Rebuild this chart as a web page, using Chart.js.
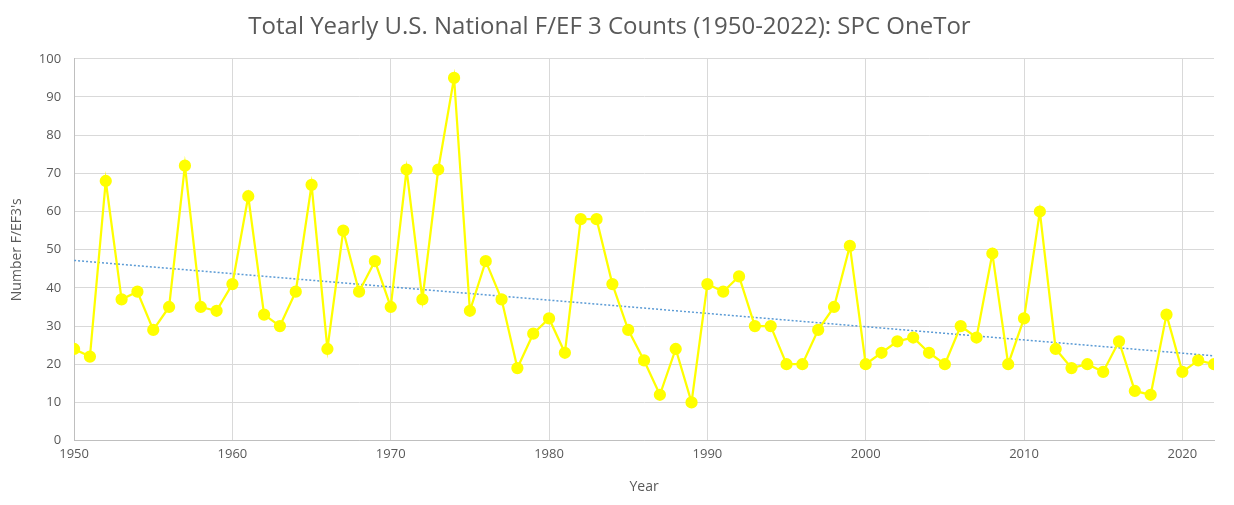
<!DOCTYPE html>
<html>
<head>
<meta charset="utf-8">
<title>F/EF3 Counts</title>
<script src="https://cdn.jsdelivr.net/npm/chart.js@4"></script>
<style>
    html, body { margin: 0; padding: 0; background: #fff; }
    #wrap { width: 1234px; height: 505px; }
</style>
</head>
<body>
<div id="wrap"><canvas id="efChart"></canvas></div>
<script>
// yearly F/EF3 counts, 1950-2022
var years = [];
for (var y = 1950; y <= 2022; y++) years.push(y);
var counts = [24,22,68,37,39,29,35,72,35,34,
              41,64,33,30,39,67,24,55,39,47,
              35,71,37,71,95,34,47,37,19,28,
              32,23,58,58,41,29,21,12,24,10,
              41,39,43,30,30,20,20,29,35,51,
              20,23,26,27,23,20,30,27,49,20,
              32,60,24,19,20,18,26,13,12,33,
              18,21,20];
// linear trend endpoints
var trendYears = [1950, 2022];
var trendValues = [47.2, 22.2];
var xTicks = [1950,1960,1970,1980,1990,2000,2010,2020];
var yTicks = [0,10,20,30,40,50,60,70,80,90,100];

var textColor = '#595959';
var gridColor = '#d9d9d9';

var ctx = document.getElementById('efChart');
new Chart(ctx.getContext('2d'), {
    type: 'line',
    data: {
        datasets: [
            {
                label: 'F/EF3',
                data: years.map(function(yr, i) { return { x: yr, y: counts[i] }; }),
                borderColor: '#FFFF00', backgroundColor: '#FFFF00',
                borderWidth: 2.25, pointRadius: 5, pointHoverRadius: 5, tension: 0, order: 1
            },
            {
                label: 'Linear',
                data: trendYears.map(function(yr, i) { return { x: yr, y: trendValues[i] }; }),
                borderColor: '#5B9BD5', borderWidth: 1.5, borderDash: [2, 2],
                pointRadius: 0, tension: 0, order: 2
            }
        ]
    },
    options: {
        responsive: true, maintainAspectRatio: false, animation: false,
        layout: { padding: { left: 5, right: 20, top: 4, bottom: 6 } },
        plugins: {
            legend: { display: false },
            tooltip: { enabled: false },
            title: {
                display: true,
                text: 'Total Yearly U.S. National F/EF 3 Counts (1950-2022): SPC OneTor',
                color: textColor,
                font: { family: 'Open Sans', size: 24, weight: 'normal' },
                padding: { top: 9, bottom: 17 }
            }
        },
        scales: {
            x: {
                type: 'linear', min: 1950, max: 2022,
                afterBuildTicks: function(scale) {
                    scale.ticks = xTicks.map(function(v) { return { value: v }; });
                },
                ticks: { color: textColor, font: { family: 'Open Sans', size: 13 }, padding: 6, autoSkip: false,
                         callback: function(v) { return String(v); } },
                grid: { color: gridColor, drawTicks: false },
                border: { color: '#bfbfbf' },
                title: { display: true, text: 'Year', color: textColor, font: { family: 'Open Sans', size: 14 }, padding: { top: 10 } }
            },
            y: {
                min: 0, max: 100,
                afterBuildTicks: function(scale) {
                    scale.ticks = yTicks.map(function(v) { return { value: v }; });
                },
                ticks: { color: textColor, font: { family: 'Open Sans', size: 13 }, padding: 13 },
                grid: { color: gridColor, drawTicks: false },
                border: { color: '#bfbfbf' },
                title: { display: true, text: "Number F/EF3's", color: textColor, font: { family: 'Open Sans', size: 14 }, padding: { top: 4, bottom: 0 } }
            }
        }
    }
});
</script>
</body>
</html>
